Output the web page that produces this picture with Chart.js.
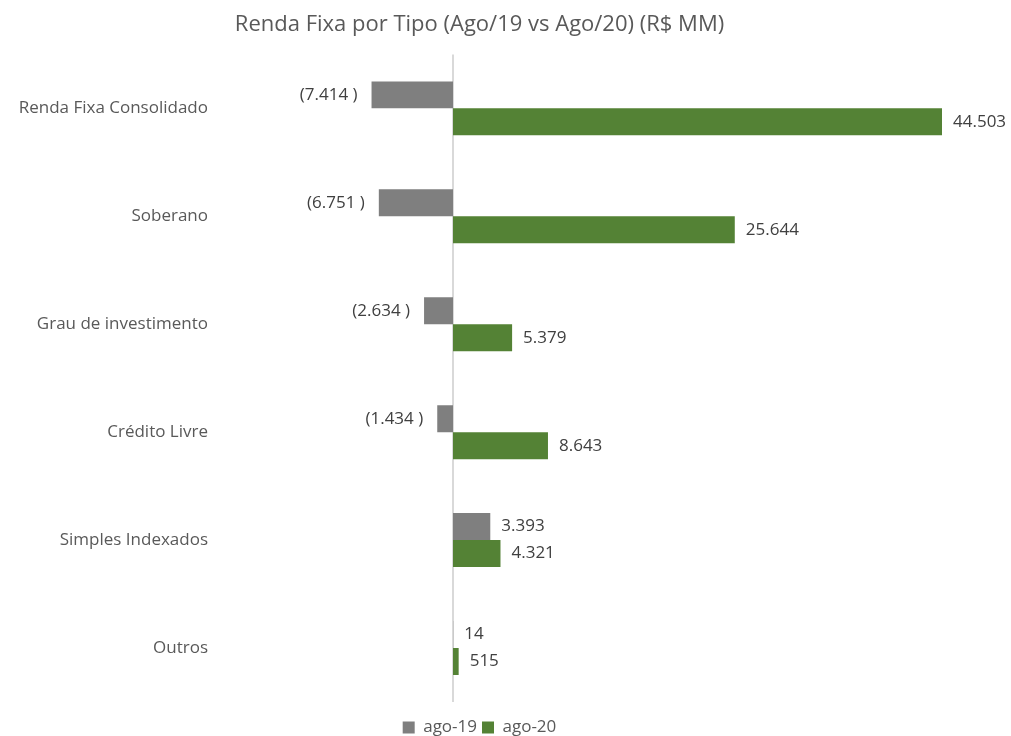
<!DOCTYPE html>
<html>
<head>
<meta charset="utf-8">
<script src="https://cdn.jsdelivr.net/npm/chart.js@4"></script>
<style>
  html, body { margin: 0; padding: 0; background: #fff; }
  #wrap { width: 1011px; height: 736px; }
</style>
</head>
<body>
<div id="wrap"><canvas id="chart" width="1011" height="736"></canvas></div>
<script>
const categories = ['Renda Fixa Consolidado', 'Soberano', 'Grau de investimento', 'Crédito Livre', 'Simples Indexados', 'Outros'];
const ago19Values = [-7414, -6751, -2634, -1434, 3393, 14];
const ago20Values = [44503, 25644, 5379, 8643, 4321, 515];

const fontFamily = "'Open Sans', 'Liberation Sans', sans-serif";

function fmt(v) {
    return String(Math.abs(v)).replace(/\B(?=(\d{3})+(?!\d))/g, '.');
}

// linha vertical no zero
const zeroLine = {
    id: 'zeroLine',
    beforeDatasetsDraw(chart) {
        const { ctx, chartArea, scales } = chart;
        const x0 = Math.round(scales.x.getPixelForValue(0));
        ctx.save();
        ctx.strokeStyle = '#d9d9d9';
        ctx.lineWidth = 2;
        ctx.beginPath();
        ctx.moveTo(x0, chartArea.top);
        ctx.lineTo(x0, chartArea.bottom);
        ctx.stroke();
        ctx.restore();
    }
};

// rótulos de valor ao lado das barras
const valueLabels = {
    id: 'valueLabels',
    afterDatasetsDraw(chart) {
        const ctx = chart.ctx;
        ctx.save();
        ctx.font = '17px ' + fontFamily;
        ctx.fillStyle = '#404040';
        ctx.textBaseline = 'middle';
        chart.data.datasets.forEach((ds, i) => {
            chart.getDatasetMeta(i).data.forEach((bar, j) => {
                const v = ds.data[j];
                if (v < 0) {
                    ctx.textAlign = 'right';
                    ctx.fillText('(' + fmt(v) + ' )', bar.x - 14, bar.y);
                } else {
                    ctx.textAlign = 'left';
                    ctx.fillText(fmt(v), bar.x + 11, bar.y);
                }
            });
        });
        ctx.restore();
    }
};

new Chart(document.getElementById('chart'), {
    type: 'bar',
    data: {
        labels: categories,
        datasets: [{
            label: 'ago-19',
            data: ago19Values,
            backgroundColor: '#7f7f7f',
            categoryPercentage: 0.5,
            barPercentage: 1
        }, {
            label: 'ago-20',
            data: ago20Values,
            backgroundColor: '#548235',
            categoryPercentage: 0.5,
            barPercentage: 1
        }]
    },
    options: {
        indexAxis: 'y',
        responsive: false,
        animation: false,
        devicePixelRatio: 1,
        layout: {
            padding: { top: 10, right: 52, bottom: -10, left: 0 }
        },
        plugins: {
            title: {
                display: true,
                text: 'Renda Fixa por Tipo (Ago/19 vs Ago/20) (R$ MM)',
                color: '#595959',
                font: { family: fontFamily, size: 22, weight: 'normal' },
                padding: { top: 2, bottom: 16 }
            },
            legend: {
                position: 'bottom',
                labels: {
                    color: '#595959',
                    font: { family: fontFamily, size: 17 },
                    boxWidth: 12,
                    boxHeight: 12,
                    padding: 5
                }
            },
            tooltip: { enabled: false }
        },
        scales: {
            x: {
                min: -20750,
                max: 46050,
                afterFit: (scale) => { scale.height = 12; },
                ticks: { display: false },
                border: { display: false },
                grid: { display: false, drawTicks: false }
            },
            y: {
                afterFit: (scale) => { scale.width = 225; },
                ticks: {
                    color: '#595959',
                    font: { family: fontFamily, size: 17 },
                    padding: 17
                },
                border: { display: false },
                grid: { display: false, drawTicks: false }
            }
        }
    },
    plugins: [zeroLine, valueLabels]
});
</script>
</body>
</html>
